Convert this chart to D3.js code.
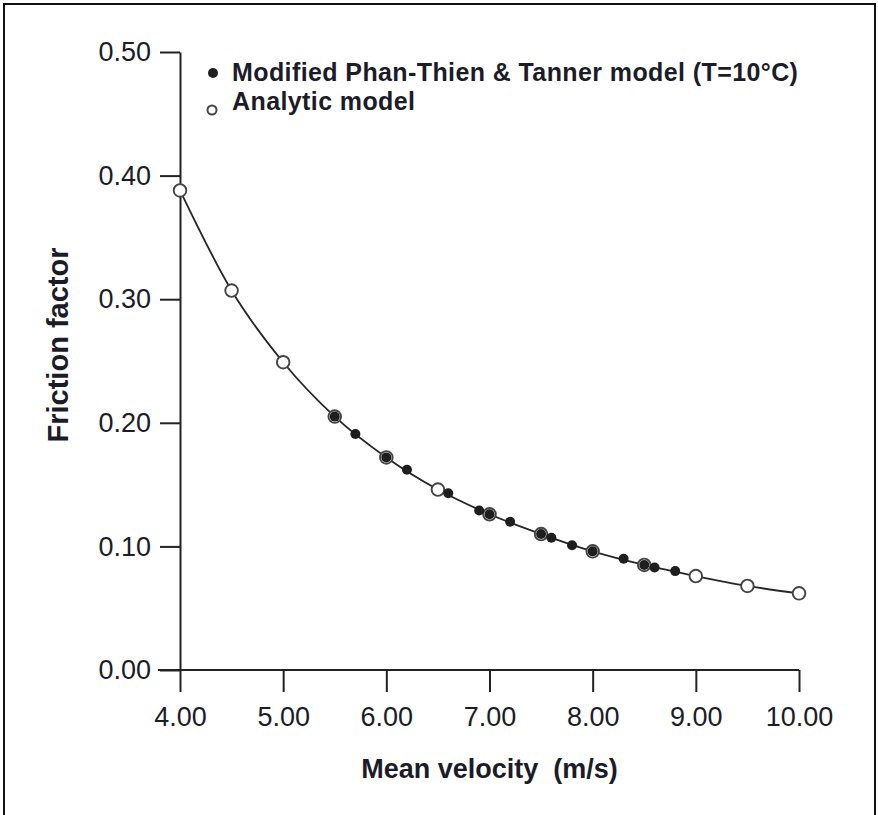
<!DOCTYPE html>
<html>
<head>
<meta charset="utf-8">
<script src="https://cdn.jsdelivr.net/npm/d3@7"></script>
<style>
    body { margin: 0; background: #fff; }
    text { font-family: "Liberation Sans", Arial, sans-serif; fill: #1c1c28; white-space: pre; }
</style>
</head>
<body>
<div id="chart"></div>
<script>
// analytic model points (every 0.5 m/s)
const analyticV = [4.0, 4.5, 5.0, 5.5, 6.0, 6.5, 7.0, 7.5, 8.0, 8.5, 9.0, 9.5, 10.0];
const analyticF = [0.388, 0.307, 0.249, 0.205, 0.172, 0.146, 0.126, 0.110, 0.096, 0.085, 0.076, 0.068, 0.062];

// modified Phan-Thien & Tanner model points
const pttV = [5.5, 5.7, 6.0, 6.2, 6.6, 6.9, 7.0, 7.2, 7.5, 7.6, 7.8, 8.0, 8.3, 8.5, 8.6, 8.8];
const pttF = [0.205, 0.191, 0.172, 0.162, 0.143, 0.129, 0.126, 0.120, 0.110, 0.107, 0.101, 0.096, 0.090, 0.085, 0.083, 0.080];

const xTicks = [4, 5, 6, 7, 8, 9, 10];
const yTicks = [0, 0.1, 0.2, 0.3, 0.4, 0.5];

const width = 878, height = 815;
const margin = { top: 52, right: 79, bottom: 145, left: 180 };

const svg = d3.select("#chart").append("svg")
    .attr("width", width)
    .attr("height", height);

// outer frame (bottom edge cut off in the original)
svg.append("rect")
    .attr("x", 4).attr("y", 4)
    .attr("width", 871).attr("height", 830)
    .attr("fill", "none")
    .attr("stroke", "#111")
    .attr("stroke-width", 2);

const x = d3.scaleLinear().domain([4, 10]).range([margin.left, width - margin.right]);
const y = d3.scaleLinear().domain([0, 0.5]).range([height - margin.bottom, margin.top]);

// axes
const xAxis = svg.append("g")
    .attr("transform", `translate(0, ${y(0)})`)
    .call(d3.axisBottom(x).tickValues(xTicks).tickFormat(d3.format(".2f")).tickSize(22).tickSizeOuter(0).tickPadding(15));

const yAxis = svg.append("g")
    .attr("transform", `translate(${x(4)}, 0)`)
    .call(d3.axisLeft(y).tickValues(yTicks).tickFormat(d3.format(".2f")).tickSize(20).tickSizeOuter(0).tickPadding(9));

[xAxis, yAxis].forEach(g => {
    g.select(".domain").attr("stroke", "#222").attr("stroke-width", 2);
    g.selectAll(".tick line").attr("stroke", "#222").attr("stroke-width", 2);
    g.selectAll(".tick text")
        .attr("font-size", 27)
        .attr("font-family", "Liberation Sans, Arial, sans-serif")
        .attr("fill", "#1c1c28");
});
// x axis line extends to the left like the original
xAxis.select(".domain").attr("d", `M${x(4) - 22},0H${x(10)}`);

// axis titles
svg.append("text")
    .attr("x", (x(4) + x(10)) / 2)
    .attr("y", 778)
    .attr("text-anchor", "middle")
    .attr("font-size", 27)
    .attr("font-weight", "bold")
    .text("Mean velocity  (m/s)");

svg.append("text")
    .attr("transform", `translate(68, 345) rotate(-90)`)
    .attr("text-anchor", "middle")
    .attr("font-size", 29)
    .attr("font-weight", "bold")
    .text("Friction factor");

// curve
const curvePts = analyticV.map((v, i) => [v, analyticF[i]]);
const line = d3.line()
    .x(d => x(d[0]))
    .y(d => y(d[1]))
    .curve(d3.curveMonotoneX);

svg.append("path")
    .datum(curvePts)
    .attr("d", line)
    .attr("fill", "none")
    .attr("stroke", "#262626")
    .attr("stroke-width", 1.8);

// analytic model markers
svg.append("g").selectAll("circle")
    .data(curvePts)
    .join("circle")
    .attr("cx", d => x(d[0]))
    .attr("cy", d => y(d[1]))
    .attr("r", 6.3)
    .attr("fill", "#fff")
    .attr("stroke", "#444")
    .attr("stroke-width", 1.9);

// PTT markers
svg.append("g").selectAll("circle")
    .data(pttV.map((v, i) => [v, pttF[i]]))
    .join("circle")
    .attr("cx", d => x(d[0]))
    .attr("cy", d => y(d[1]))
    .attr("r", 5)
    .attr("fill", "#1e1e1e");

// legend
const legend = svg.append("g");
legend.append("circle").attr("cx", 213).attr("cy", 73).attr("r", 5).attr("fill", "#1e1e1e");
legend.append("circle").attr("cx", 212).attr("cy", 110).attr("r", 4.5)
    .attr("fill", "#fff").attr("stroke", "#444").attr("stroke-width", 2);
legend.append("text").attr("x", 232).attr("y", 81)
    .attr("font-size", 25).attr("font-weight", "bold").attr("letter-spacing", 0.4)
    .text("Modified Phan-Thien & Tanner model (T=10°C)");
legend.append("text").attr("x", 232).attr("y", 110)
    .attr("font-size", 25).attr("font-weight", "bold").attr("letter-spacing", 0.4)
    .text("Analytic model");
</script>
</body>
</html>
